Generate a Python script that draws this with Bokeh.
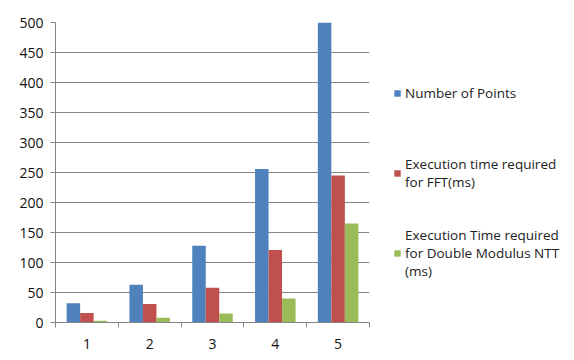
import numpy as np
from bokeh.plotting import figure
from bokeh.layouts import row
from bokeh.models import (ColumnDataSource, FixedTicker, Range1d, Legend, LegendItem)
from bokeh.transform import dodge
from bokeh.embed import file_html
from bokeh.resources import INLINE

categories = ["1", "2", "3", "4", "5"]
number_of_points = [32, 63, 128, 256, 500]
fft_time = [16, 31, 58, 121, 245]
ntt_time = [3, 8, 15, 40, 165]
series_names = ["Number of Points",
                "Execution time required\nfor FFT(ms)",
                "Execution Time required\nfor Double Modulus NTT\n(ms)"]
colors = ["#4F81BD", "#C0504D", "#9BBB59"]
y_ticks = list(range(0, 501, 50))

idx = np.arange(len(categories)) + 0.5
bar_w = 0.215
src = ColumnDataSource(dict(x=idx, a=number_of_points, b=fft_time, c=ntt_time))

p = figure(width=390, height=360, output_backend="svg", toolbar_location=None,
           x_range=Range1d(0, len(categories)), y_range=Range1d(0, 500),
           min_border_left=55, min_border_right=21, min_border_top=22, min_border_bottom=38)
p.outline_line_color = None

cols = ["a", "b", "c"]
for col, off, c in zip(cols, [-bar_w, 0, bar_w], colors):
    p.vbar(x=dodge("x", off), top=col, width=bar_w, source=src,
           fill_color=c, line_color=None)

# axes
p.xaxis.ticker = FixedTicker(ticks=list(idx), minor_ticks=list(range(len(categories) + 1)))
p.xaxis.major_label_overrides = {float(v): lab for v, lab in zip(idx, categories)}
p.xaxis.major_tick_out = 0
p.xaxis.major_tick_in = 0
p.xaxis.minor_tick_out = 5
p.xaxis.minor_tick_in = 0
p.xaxis.minor_tick_line_color = "#868686"
p.xaxis.axis_line_color = "#868686"
p.xaxis.major_label_standoff = 11

p.yaxis.ticker = FixedTicker(ticks=y_ticks)
p.yaxis.major_tick_out = 5
p.yaxis.major_tick_in = 0
p.yaxis.minor_tick_line_color = None
p.yaxis.major_tick_line_color = "#868686"
p.yaxis.axis_line_color = "#868686"
p.yaxis.major_label_standoff = 7

for ax in (p.xaxis, p.yaxis):
    ax.major_label_text_font = "Open Sans"
    ax.major_label_text_font_size = "14px"
    ax.major_label_text_color = "#111111"

p.xgrid.grid_line_color = None
p.ygrid.ticker = FixedTicker(ticks=y_ticks)
p.ygrid.grid_line_color = "#868686"

# legend panel (its frame is aligned with the chart frame by the row layout)
q = figure(width=184, height=360, output_backend="svg", toolbar_location=None,
           x_range=Range1d(0, 1), y_range=Range1d(0, 1),
           min_border=0, x_axis_location=None, y_axis_location=None)
q.outline_line_color = None
q.grid.grid_line_color = None
key_src = ColumnDataSource(dict(x=[5], top=[0]))
key_rs = [q.vbar(x="x", top="top", width=0.1, source=key_src, fill_color=c, line_color=None)
          for c in colors]

legend = Legend(items=[LegendItem(label=n, renderers=[r]) for n, r in zip(series_names, key_rs)],
                location=(3, 41), orientation="vertical")
legend.label_text_font = "Open Sans"
legend.label_text_font_size = "13.5px"
legend.label_text_color = "#222222"
legend.label_text_line_height = 1.4
legend.label_height = 57
legend.glyph_width = 8
legend.glyph_height = 8
legend.label_standoff = 4
legend.spacing = 23
legend.border_line_color = None
legend.background_fill_alpha = 0
legend.padding = 0
legend.margin = 0
q.add_layout(legend, "center")

open("out.html", "w").write(file_html(row(p, q), INLINE))
